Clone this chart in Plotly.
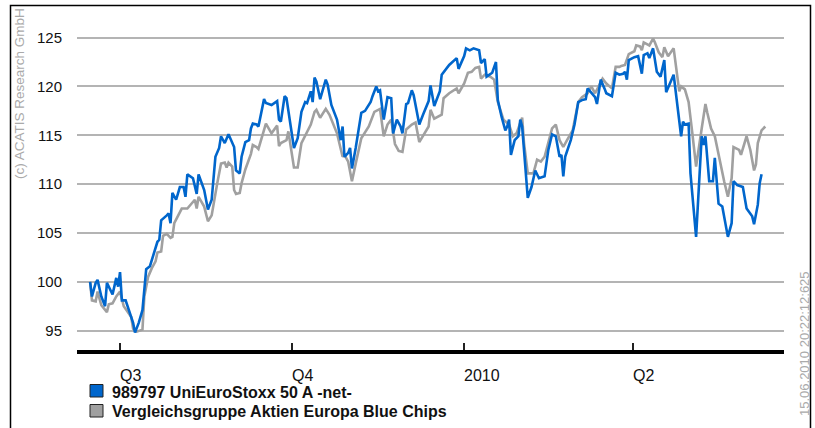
import pandas as pd
import plotly.graph_objects as go

# ---------------- data ----------------
base_date = "2009-07-01"

blue_days = [-16, -15, -13, -12, -10, -8, -7, -4, -2, -1, 0, 1, 3, 5, 7, 8, 10, 12, 14, 16,
             19, 20, 21, 22, 25, 26, 27, 28, 30, 32, 34, 35, 36, 39, 41, 42, 45, 47, 49, 51,
             53, 54, 56, 58, 61, 62, 64, 65, 67, 69, 70, 71, 73, 74, 77, 78, 81, 84, 85, 86,
             88, 89, 93, 95, 97, 99, 100, 102, 103, 104, 105, 107, 110, 111, 113, 116, 118, 119, 120, 122,
             123, 124, 126, 129, 131, 134, 135, 137, 138, 139, 141, 143, 145, 146, 148, 150, 151, 153, 154, 156,
             157, 160, 162, 165, 166, 168, 171, 172, 176, 180, 181, 184, 185, 187, 189, 192, 193, 195, 196, 199,
             201, 202, 204, 206, 207, 208, 209, 211, 213, 214, 215, 218, 220, 222, 224, 227, 229, 231, 233, 235,
             236, 237, 238, 241, 243, 245, 247, 249, 250, 252, 254, 255, 257, 259, 260, 263, 264, 265, 267, 269,
             270, 271, 272, 275, 277, 279, 280, 282, 283, 285, 287, 289, 291, 292, 296, 299, 300, 301, 302, 304,
             305, 308, 311, 312, 313, 315, 317, 318, 320, 322, 325, 327, 328, 330, 333, 335, 338, 339, 341, 342,
             343]
blue_vals = [100.0, 98.5, 99.9, 100.2, 98.5, 97.5, 99.9, 98.7, 100.4, 99.5, 101.0, 98.1, 98.1, 96.9, 95.8, 94.8, 95.8, 97.1, 101.3, 101.6,
             103.3, 104.1, 104.3, 106.3, 106.8, 107.0, 106.0, 109.1, 108.4, 109.7, 109.7, 108.7, 111.0, 110.6, 109.0, 111.0, 109.4, 107.4, 108.4, 112.8,
             113.7, 114.9, 114.2, 115.1, 113.8, 111.4, 111.1, 112.8, 114.3, 114.5, 115.7, 116.2, 116.1, 115.9, 118.7, 118.3, 118.1, 118.5, 116.6, 116.4,
             119.0, 118.8, 113.7, 114.7, 117.4, 118.4, 118.3, 119.5, 118.4, 120.9, 120.5, 118.7, 120.7, 120.2, 118.1, 116.6, 114.5, 115.9, 112.8, 113.2,
             113.7, 111.6, 113.7, 117.3, 117.5, 118.4, 119.0, 120.0, 119.5, 119.6, 116.6, 118.9, 118.8, 115.2, 116.6, 115.9, 115.2, 118.2, 118.3, 119.6,
             119.1, 116.1, 117.1, 118.5, 120.1, 118.0, 119.5, 121.2, 122.2, 122.9, 121.8, 123.1, 123.9, 123.7, 123.9, 123.7, 122.4, 122.8, 121.0, 121.4,
             122.5, 118.6, 116.9, 115.5, 115.9, 116.6, 113.0, 114.5, 114.9, 116.6, 115.9, 108.6, 109.7, 111.4, 110.6, 110.8, 113.5, 115.1, 114.9, 112.8,
             113.0, 110.8, 112.8, 114.5, 116.1, 118.4, 118.6, 118.7, 119.8, 119.3, 118.9, 118.2, 120.7, 119.8, 119.3, 119.0, 120.1, 121.4, 121.2, 121.3,
             121.5, 120.7, 122.7, 123.0, 123.1, 121.3, 123.2, 123.4, 122.9, 123.9, 121.5, 121.0, 122.7, 119.4, 121.2, 116.6, 114.9, 116.4, 116.1, 116.2,
             111.1, 104.6, 114.9, 114.0, 114.9, 110.3, 110.3, 112.7, 108.0, 107.7, 104.6, 106.0, 110.3, 109.9, 109.7, 107.5, 106.7, 105.9, 107.9, 110.1,
             111.0]

gray_days = [-16, -15, -13, -12, -10, -7, -6, -4, -2, 0, 2, 4, 6, 7, 9, 12, 13, 15, 17, 19,
             20, 22, 23, 25, 27, 28, 29, 33, 36, 40, 41, 42, 45, 47, 49, 52, 54, 56, 57, 58,
             60, 61, 62, 64, 65, 67, 70, 71, 73, 74, 78, 81, 84, 85, 86, 89, 90, 93, 95, 97,
             100, 102, 104, 105, 107, 110, 112, 116, 119, 120, 122, 124, 126, 129, 133, 136, 139, 141, 143, 145,
             147, 149, 151, 153, 156, 158, 160, 162, 165, 166, 168, 172, 173, 176, 180, 181, 184, 186, 188, 190,
             192, 193, 195, 198, 200, 202, 205, 208, 210, 212, 215, 216, 218, 221, 223, 225, 227, 231, 233, 235,
             237, 239, 242, 245, 247, 250, 252, 254, 256, 258, 260, 263, 265, 267, 268, 270, 272, 275, 276, 278,
             279, 280, 283, 285, 286, 288, 290, 291, 293, 296, 299, 300, 302, 304, 306, 308, 311, 313, 314, 316,
             318, 321, 323, 325, 327, 328, 331, 332, 335, 337, 339, 340, 341, 343, 345]
gray_vals = [100.0, 98.1, 98.0, 99.0, 97.6, 96.9, 97.7, 97.8, 98.5, 99.0, 97.5, 96.9, 96.4, 95.2, 94.9, 95.1, 98.5, 100.5, 101.4, 102.1,
             103.0, 103.1, 104.7, 104.9, 104.5, 104.6, 106.0, 107.5, 107.5, 108.4, 107.5, 108.7, 107.7, 106.2, 106.8, 110.1, 112.1, 112.2, 111.7, 112.2,
             111.8, 109.4, 109.0, 109.1, 110.1, 111.5, 113.1, 114.0, 113.8, 113.6, 116.2, 115.2, 116.0, 113.9, 114.2, 114.5, 115.4, 111.7, 111.7, 114.2,
             115.4, 116.1, 117.4, 117.6, 116.8, 117.7, 117.1, 115.2, 112.8, 113.0, 112.3, 110.3, 112.1, 114.7, 115.9, 117.4, 117.7, 114.9, 116.1, 116.6,
             114.1, 113.4, 113.3, 115.6, 116.1, 116.3, 114.3, 115.0, 115.9, 117.6, 116.7, 117.1, 118.8, 119.3, 119.8, 119.3, 120.3, 121.4, 121.5, 121.9,
             122.0, 120.8, 121.2, 121.0, 120.7, 118.4, 116.6, 116.1, 114.9, 115.2, 116.8, 114.2, 111.1, 111.1, 112.5, 112.3, 112.8, 115.7, 116.1, 114.5,
             113.8, 114.5, 115.5, 118.4, 118.9, 119.3, 120.0, 119.3, 120.1, 120.8, 120.3, 119.8, 122.0, 122.0, 122.1, 122.2, 123.3, 123.6, 124.2, 124.1,
             123.7, 124.5, 124.2, 124.9, 124.5, 123.5, 123.0, 124.0, 123.1, 123.9, 119.5, 120.0, 119.7, 118.4, 115.2, 111.8, 115.7, 118.2, 117.3, 115.7,
             114.9, 112.0, 110.3, 108.7, 110.6, 113.8, 113.5, 113.0, 114.9, 113.5, 111.4, 112.0, 114.2, 115.5, 115.9]

series_names = ["989797 UniEuroStoxx 50 A -net-", "Vergleichsgruppe Aktien Europa Blue Chips"]
series_colors = ["#0066CC", "#A0A0A0"]

tick_dates = ["2009-07-01", "2009-10-01", "2010-01-01", "2010-04-01"]
tick_labels = ["Q3", "Q4", "2010", "Q2"]
y_ticks = [95, 100, 105, 110, 115, 120, 125]

x_range = ["2009-06-08", "2010-06-21"]
y_range = [93.02, 126.8]

left_note = "(c) ACATIS Research GmbH"
right_note = "15.06.2010 20:22:12:625"

# ---------------- figure ----------------
W, H = 815, 428
L, R, T, B = 77, 31, 20, 78
PW, PH = W - L - R, H - T - B


def px_x(px):
    return (px - L) / PW


def px_y(py):
    return (H - B - py) / PH


base = pd.Timestamp(base_date)
blue_x = base + pd.to_timedelta(blue_days, unit="D")
gray_x = base + pd.to_timedelta(gray_days, unit="D")

FONT = "Liberation Sans, Arial, Helvetica, sans-serif"

fig = go.Figure()
fig.add_trace(go.Scatter(x=gray_x, y=gray_vals, mode="lines", name=series_names[1],
                         line=dict(color=series_colors[1], width=2.6), showlegend=False))
fig.add_trace(go.Scatter(x=blue_x, y=blue_vals, mode="lines", name=series_names[0],
                         line=dict(color=series_colors[0], width=2.6), showlegend=False))

fig.update_layout(
    width=W, height=H,
    margin=dict(l=L, r=R, t=T, b=B, pad=0),
    paper_bgcolor="white", plot_bgcolor="white",
    font=dict(family=FONT, size=15, color="#111111"),
    showlegend=False,
)
fig.update_xaxes(
    type="date", range=x_range, tickvals=tick_dates, ticktext=tick_labels,
    showticklabels=False, showgrid=False, zeroline=False,
    showline=True, linecolor="black", linewidth=4,
    ticks="inside", ticklen=7, tickwidth=1.5, tickcolor="#222222",
)
fig.update_yaxes(
    range=y_range, tickvals=y_ticks, showgrid=True, gridcolor="#B4B4B4", gridwidth=1.6,
    zeroline=False, showline=False, ticks="", ticklabelstandoff=14,
    tickfont=dict(family=FONT, size=15, color="#111111"),
)

shapes = []
# outer border
shapes.append(dict(type="rect", xref="paper", yref="paper",
                   x0=px_x(10.5), x1=px_x(810.5), y0=px_y(445), y1=px_y(5.5),
                   line=dict(color="black", width=1.5), fillcolor="rgba(0,0,0,0)", layer="below"))
# legend squares
for i, c in enumerate(series_colors):
    top = 384.5 + i * 20
    shapes.append(dict(type="rect", xref="paper", yref="paper",
                       x0=px_x(90), x1=px_x(103), y0=px_y(top + 12.5), y1=px_y(top),
                       line=dict(color="#222222", width=1), fillcolor=c))
fig.update_layout(shapes=shapes)

annotations = []
for d, t in zip(tick_dates, tick_labels):
    annotations.append(dict(x=d, xref="x", y=px_y(375.5), yref="paper", text=t,
                            showarrow=False, xanchor="left", yanchor="middle", borderpad=0,
                            xshift=-1, font=dict(family=FONT, size=16, color="#111111")))
for i, n in enumerate(series_names):
    annotations.append(dict(x=px_x(111), xref="paper", y=px_y(392 + i * 19.5), yref="paper",
                            text="<b>" + n + "</b>", showarrow=False, xanchor="left", yanchor="middle",
                            borderpad=0, font=dict(family=FONT, size=16, color="#111111")))
annotations.append(dict(x=px_x(19), xref="paper", y=px_y(94), yref="paper", text=left_note,
                        textangle=-90, showarrow=False, xanchor="center", yanchor="middle",
                        font=dict(family=FONT, size=13.5, color="#AAAAAA")))
annotations.append(dict(x=px_x(804), xref="paper", y=px_y(344), yref="paper", text=right_note,
                        textangle=-90, showarrow=False, xanchor="center", yanchor="middle",
                        font=dict(family=FONT, size=13, color="#AAAAAA")))
fig.update_layout(annotations=annotations)

fig.write_html("out.html", config={"displayModeBar": False},
               post_script="document.body.style.margin='0px';")
